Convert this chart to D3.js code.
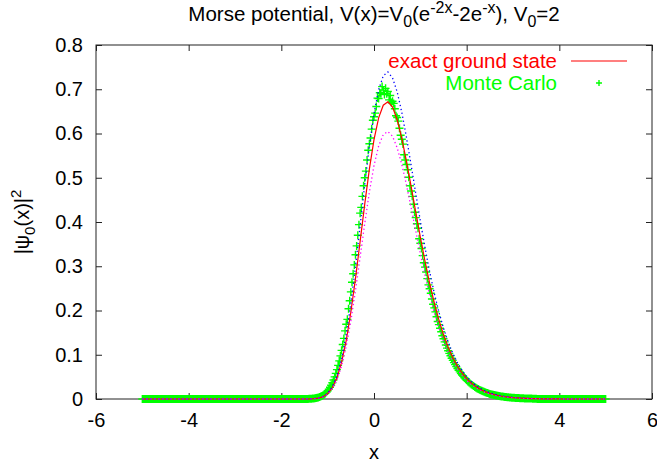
<!DOCTYPE html>
<html>
<head>
<meta charset="utf-8">
<script src="https://cdn.jsdelivr.net/npm/d3@7"></script>
<style>
  body { margin: 0; background: #fff; }
  text { font-family: "Liberation Sans", Arial, sans-serif; fill: #000; }
</style>
</head>
<body>
<div id="chart"></div>
<script>
// curve sample points, x = -5 .. 5 step 0.1
const curveX = d3.range(0, 101).map(i => -5 + i * 0.1);

// exact ground state |psi0|^2 (red)
const exactY = [
  0, 0, 0, 0, 0, 0, 0, 0, 0, 0,
  0, 0, 0, 0, 0, 0, 0, 0, 0, 0,
  0, 0, 0, 0, 0, 0, 0, 0, 0, 0,
  0, 0, 0, 0, 0,
  0.0000, 0.0002, 0.0007, 0.0020, 0.0052, 0.0122, 0.0254, 0.0480, 0.0829, 0.1320,
  0.1960, 0.2720, 0.3555, 0.4405, 0.5194, 0.5861, 0.6353, 0.6640, 0.6717, 0.6597,
  0.6310, 0.5889, 0.5377, 0.4812, 0.4230, 0.3657, 0.3116, 0.2620, 0.2178, 0.1789,
  0.1456, 0.1174, 0.0939, 0.0746, 0.0588, 0.0462, 0.0360, 0.0280, 0.0216, 0.0166,
  0.0128, 0.0098, 0.0074, 0.0056, 0.0043, 0.0032, 0.0024, 0.0018, 0.0013, 0.0010,
  0.0007, 0.0005, 0.0004, 0.0003, 0.0002, 0.0002,
  0, 0, 0, 0, 0, 0, 0, 0, 0, 0
];

// upper dotted curve (blue)
const upperY = [
  0, 0, 0, 0, 0, 0, 0, 0, 0, 0,
  0, 0, 0, 0, 0, 0, 0, 0, 0, 0,
  0, 0, 0, 0, 0, 0, 0, 0, 0, 0,
  0, 0, 0, 0, 0,
  0.0000, 0.0002, 0.0008, 0.0022, 0.0057, 0.0134, 0.0279, 0.0528, 0.0912, 0.1452,
  0.2156, 0.2992, 0.3911, 0.4846, 0.5713, 0.6447, 0.6988, 0.7304, 0.7389, 0.7257,
  0.6941, 0.6478, 0.5915, 0.5293, 0.4653, 0.4023, 0.3428, 0.2882, 0.2396, 0.1968,
  0.1602, 0.1291, 0.1033, 0.0821, 0.0647, 0.0508, 0.0396, 0.0308, 0.0238, 0.0183,
  0.0141, 0.0108, 0.0081, 0.0062, 0.0047, 0.0035, 0.0026, 0.0020, 0.0014, 0.0011,
  0.0008, 0.0006, 0.0004, 0.0003, 0.0002, 0.0002,
  0, 0, 0, 0, 0, 0, 0, 0, 0, 0
];

// lower dotted curve (magenta)
const lowerY = [
  0, 0, 0, 0, 0, 0, 0, 0, 0, 0,
  0, 0, 0, 0, 0, 0, 0, 0, 0, 0,
  0, 0, 0, 0, 0, 0, 0, 0, 0, 0,
  0, 0, 0, 0, 0,
  0.0000, 0.0002, 0.0006, 0.0018, 0.0047, 0.0110, 0.0229, 0.0432, 0.0746, 0.1188,
  0.1764, 0.2448, 0.3200, 0.3965, 0.4675, 0.5275, 0.5718, 0.5976, 0.6045, 0.5937,
  0.5679, 0.5300, 0.4839, 0.4331, 0.3807, 0.3291, 0.2804, 0.2358, 0.1960, 0.1610,
  0.1310, 0.1057, 0.0845, 0.0671, 0.0529, 0.0416, 0.0324, 0.0252, 0.0194, 0.0149,
  0.0115, 0.0088, 0.0067, 0.0050, 0.0039, 0.0029, 0.0022, 0.0016, 0.0012, 0.0009,
  0.0006, 0.0005, 0.0004, 0.0003, 0.0002, 0.0002,
  0, 0, 0, 0, 0, 0, 0, 0, 0, 0
];

// Monte Carlo histogram, x = -5 .. 5 step 0.025
const mcX = d3.range(0, 401).map(i => -5 + i * 0.025);
const mcY = [
  // -5.000 .. -1.425
  0, 0, 0, 0, 0, 0, 0, 0, 0, 0, 0, 0, 0, 0, 0, 0,
  0, 0, 0, 0, 0, 0, 0, 0, 0, 0, 0, 0, 0, 0, 0, 0,
  0, 0, 0, 0, 0, 0, 0, 0, 0, 0, 0, 0, 0, 0, 0, 0,
  0, 0, 0, 0, 0, 0, 0, 0, 0, 0, 0, 0, 0, 0, 0, 0,
  0, 0, 0, 0, 0, 0, 0, 0, 0, 0, 0, 0, 0, 0, 0, 0,
  0, 0, 0, 0, 0, 0, 0, 0, 0, 0, 0, 0, 0, 0, 0, 0,
  0, 0, 0, 0, 0, 0, 0, 0, 0, 0, 0, 0, 0, 0, 0, 0,
  0, 0, 0, 0, 0, 0, 0, 0, 0, 0, 0, 0, 0, 0, 0, 0,
  0, 0, 0, 0, 0, 0, 0, 0, 0, 0, 0, 0, 0, 0, 0, 0,
  // -1.400 .. 3.500
  0.0004, 0.0005, 0.0007, 0.0009, 0.0012, 0.0016, 0.0021, 0.0027, 0.0034, 0.0043,
  0.0055, 0.0068, 0.0084, 0.0104, 0.0127, 0.0154, 0.0185, 0.0222, 0.0264, 0.0312,
  0.0367, 0.0430, 0.0499, 0.0578, 0.0664, 0.0760, 0.0862, 0.0975, 0.110, 0.123,
  0.137, 0.154, 0.169, 0.180, 0.204, 0.222, 0.242, 0.264, 0.283, 0.303,
  0.326, 0.346, 0.370, 0.394, 0.420, 0.433, 0.458, 0.482, 0.500, 0.515,
  0.540, 0.562, 0.577, 0.590, 0.610, 0.630, 0.638, 0.646, 0.661, 0.680,
  0.679, 0.692, 0.691, 0.706, 0.698, 0.688, 0.702, 0.690, 0.695, 0.676,
  0.686, 0.670, 0.673, 0.668, 0.656, 0.640, 0.636, 0.628, 0.612, 0.596,
  0.587, 0.576, 0.552, 0.540, 0.530, 0.518, 0.501, 0.482, 0.470, 0.458,
  0.440, 0.422, 0.410, 0.396, 0.386, 0.362, 0.352, 0.340, 0.324, 0.308,
  0.298, 0.287, 0.272, 0.258, 0.249, 0.239, 0.226, 0.214, 0.206, 0.197,
  0.186, 0.175, 0.168, 0.160, 0.152, 0.143, 0.136, 0.129, 0.122, 0.115,
  0.109, 0.103, 0.0977, 0.0922, 0.0872, 0.0822, 0.0776, 0.0731, 0.0690, 0.0650,
  0.0612, 0.0577, 0.0543, 0.0511, 0.0481, 0.0452, 0.0424, 0.0398, 0.0374, 0.0351,
  0.0330, 0.0310, 0.0291, 0.0273, 0.0256, 0.0240, 0.0225, 0.0211, 0.0198, 0.0185,
  0.0173, 0.0162, 0.0152, 0.0142, 0.0133, 0.0124, 0.0115, 0.0108, 0.0102, 0.0095,
  0.0088, 0.0082, 0.0077, 0.0072, 0.0068, 0.0063, 0.0058, 0.0054, 0.0051, 0.0048,
  0.0045, 0.0041, 0.0038, 0.0035, 0.0033, 0.0031, 0.0029, 0.0027, 0.0025, 0.0023,
  0.0022, 0.0020, 0.0019, 0.0017, 0.0016, 0.0015, 0.0014, 0.0012, 0.0011, 0.0011,
  0.0010, 0.0009, 0.0009, 0.0008, 0.0007, 0.0007, 0.0006,
  // 3.525 .. 5.000
  0, 0, 0, 0, 0, 0, 0, 0, 0, 0, 0, 0, 0, 0, 0, 0, 0, 0, 0, 0,
  0, 0, 0, 0, 0, 0, 0, 0, 0, 0, 0, 0, 0, 0, 0, 0, 0, 0, 0, 0,
  0, 0, 0, 0, 0, 0, 0, 0, 0, 0, 0, 0, 0, 0, 0, 0, 0, 0, 0, 0
];

const xTicks = [-6, -4, -2, 0, 2, 4, 6];
const yTicks = [0, 0.1, 0.2, 0.3, 0.4, 0.5, 0.6, 0.7, 0.8];

const width = 657;
const height = 468;
const margin = { top: 45, right: 5, bottom: 69, left: 96 };
const fontSize = 20;
const green = '#00ff00';

const svg = d3.select('#chart')
  .append('svg')
  .attr('width', width)
  .attr('height', height);

const x = d3.scaleLinear().domain([-6, 6]).range([margin.left, width - margin.right]);
const y = d3.scaleLinear().domain([0, 0.8]).range([height - margin.bottom, margin.top]);

const x0 = x.range()[0], x1 = x.range()[1];
const y0 = y.range()[0], y1 = y.range()[1];

// axes with inward ticks, mirrored on top and right
svg.append('g')
  .attr('transform', `translate(0, ${y0})`)
  .call(d3.axisBottom(x).tickValues(xTicks).tickSizeInner(-6).tickSizeOuter(0).tickPadding(14).tickFormat(d => String(d)))
  .call(g => g.select('.domain').remove());
svg.append('g')
  .attr('transform', `translate(0, ${y1})`)
  .call(d3.axisTop(x).tickValues(xTicks).tickSizeInner(-6).tickSizeOuter(0).tickFormat(''))
  .call(g => g.select('.domain').remove());
svg.append('g')
  .attr('transform', `translate(${x0}, 0)`)
  .call(d3.axisLeft(y).tickValues(yTicks).tickSizeInner(-6).tickSizeOuter(0).tickPadding(13).tickFormat(d => d === 0 ? '0' : d3.format('.1f')(d)))
  .call(g => g.select('.domain').remove());
svg.append('g')
  .attr('transform', `translate(${x1}, 0)`)
  .call(d3.axisRight(y).tickValues(yTicks).tickSizeInner(-6).tickSizeOuter(0).tickFormat(''))
  .call(g => g.select('.domain').remove());

svg.selectAll('.tick text')
  .style('font-size', fontSize + 'px')
  .style('font-family', '"Liberation Sans", Arial, sans-serif');
svg.selectAll('.tick line').attr('stroke', '#222');

// frame
svg.append('rect')
  .attr('x', x0).attr('y', y1)
  .attr('width', x1 - x0).attr('height', y0 - y1)
  .attr('fill', 'none')
  .attr('stroke', '#222')
  .attr('stroke-width', 1);

const line = (ys) => d3.line()
  .x((d, i) => x(curveX[i]))
  .y(d => y(d))(ys);

const plot = svg.append('g');

// Monte Carlo points
const cross = (cx, cy, s) => `M${cx - s},${cy}H${cx + s}M${cx},${cy - s}V${cy + s}`;
plot.append('path')
  .attr('d', mcY.map((v, i) => cross(x(mcX[i]), y(v), 4)).join(''))
  .attr('fill', 'none')
  .attr('stroke', green)
  .attr('stroke-width', 1.4);

// exact ground state
plot.append('path')
  .attr('d', line(exactY))
  .attr('fill', 'none')
  .attr('stroke', '#ff0000')
  .attr('stroke-width', 1.2);

// dotted curves
plot.append('path')
  .attr('d', line(upperY))
  .attr('fill', 'none')
  .attr('stroke', '#0000ff')
  .attr('stroke-width', 1.3)
  .attr('stroke-dasharray', '1.3,2.7');

plot.append('path')
  .attr('d', line(lowerY))
  .attr('fill', 'none')
  .attr('stroke', '#ff00ff')
  .attr('stroke-width', 1.3)
  .attr('stroke-dasharray', '1.3,2.7');

// legend
const legend = svg.append('g').style('font-size', '20.5px');
legend.append('text')
  .attr('x', 557).attr('y', 61).attr('dy', '0.35em')
  .attr('text-anchor', 'end')
  .style('fill', '#ff0000')
  .text('exact ground state');
legend.append('line')
  .attr('x1', 571).attr('x2', 627).attr('y1', 61).attr('y2', 61)
  .attr('stroke', '#ff0000').attr('stroke-width', 1.2);
legend.append('text')
  .attr('x', 557).attr('y', 83).attr('dy', '0.35em')
  .attr('text-anchor', 'end')
  .style('fill', green)
  .text('Monte Carlo');
legend.append('path')
  .attr('d', cross(599, 83, 3))
  .attr('stroke', green).attr('stroke-width', 1.4);

// title
const title = svg.append('text')
  .attr('x', (x0 + x1) / 2).attr('y', 21)
  .attr('text-anchor', 'middle')
  .style('font-size', '20.5px');
const sub = 6, sup = 8, small = '16px';
title.append('tspan').text('Morse potential, V(x)=V');
title.append('tspan').attr('dy', sub).style('font-size', small).text('0');
title.append('tspan').attr('dy', -sub).text('(e');
title.append('tspan').attr('dy', -sup).style('font-size', small).text('-2x');
title.append('tspan').attr('dy', sup).text('-2e');
title.append('tspan').attr('dy', -sup).style('font-size', small).text('-x');
title.append('tspan').attr('dy', sup).text('), V');
title.append('tspan').attr('dy', sub).style('font-size', small).text('0');
title.append('tspan').attr('dy', -sub).text('=2');

// axis labels
svg.append('text')
  .attr('x', (x0 + x1) / 2).attr('y', 459)
  .attr('text-anchor', 'middle')
  .style('font-size', fontSize + 'px')
  .text('x');

const ylab = svg.append('text')
  .attr('transform', `translate(29, ${(y0 + y1) / 2}) rotate(-90)`)
  .attr('text-anchor', 'middle')
  .style('font-size', fontSize + 'px');
ylab.append('tspan').text('|\u03c8');
ylab.append('tspan').attr('dy', 6).style('font-size', '15px').text('0');
ylab.append('tspan').attr('dy', -6).text('(x)|');
ylab.append('tspan').attr('dy', -8).style('font-size', '15px').text('2');
</script>
</body>
</html>
